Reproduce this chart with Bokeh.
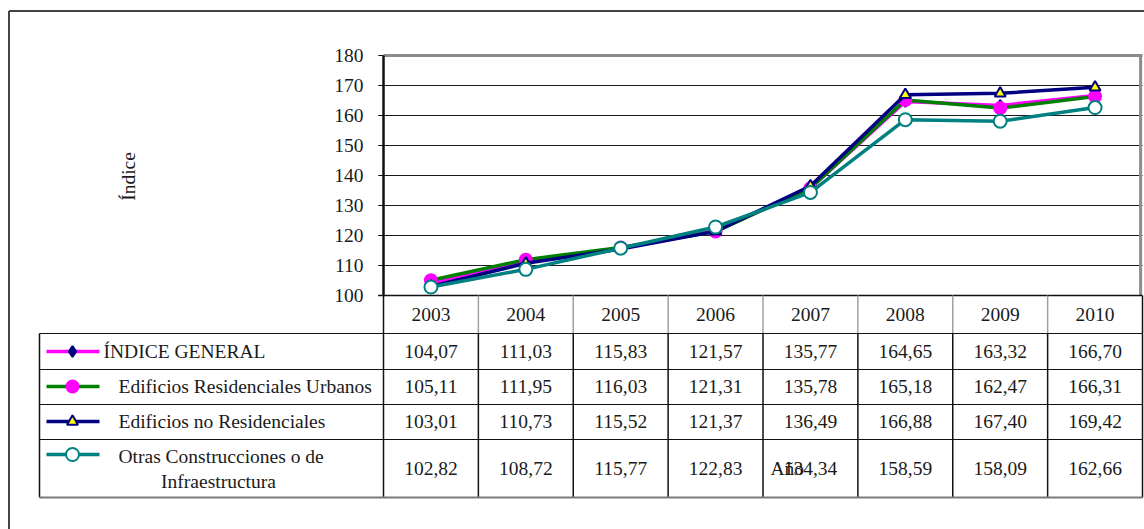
from bokeh.plotting import figure
from bokeh.models import Range1d, ColumnDataSource
from bokeh.core.properties import value
from bokeh.embed import file_html
from bokeh.resources import INLINE

# ---------------- data ----------------
years = ["2003", "2004", "2005", "2006", "2007", "2008", "2009", "2010"]
series_names = ["ÍNDICE GENERAL", "Edificios Residenciales Urbanos",
                "Edificios no Residenciales", "Otras Construcciones o de Infraestructura"]
indice_general = [104.07, 111.03, 115.83, 121.57, 135.77, 164.65, 163.32, 166.70]
resid_urbanos = [105.11, 111.95, 116.03, 121.31, 135.78, 165.18, 162.47, 166.31]
no_resid = [103.01, 110.73, 115.52, 121.37, 136.49, 166.88, 167.40, 169.42]
otras_constr = [102.82, 108.72, 115.77, 122.83, 134.34, 158.59, 158.09, 162.66]
y_ticks = [100, 110, 120, 130, 140, 150, 160, 170, 180]
y_title = "Índice"
x_title = "Año"

series_values = [indice_general, resid_urbanos, no_resid, otras_constr]
line_colors = ["#FF00FF", "#008000", "#000080", "#008080"]
marker_types = ["diamond", "circle", "triangle", "circle"]
marker_fill = ["#000080", "#FF00FF", "#FFFF00", "#FFFFFF"]
marker_line = ["#000080", "#FF00FF", "#000080", "#008080"]
marker_size = [11, 12, 11, 13]

# ---------------- layout (page px -> canvas px) ----------------
W, H = 1144, 529
OFF = 0
FONT = value("Liberation Serif")
FS = "19.5px"
TXT = "#1a1a1a"

def cx(x):
    return x - OFF

def cy(y):
    return y - OFF

plot_left, plot_right = 383, 1142
plot_top, plot_bottom = 55, 295
col_w = (plot_right - plot_left) / len(years)
px_per_unit = (plot_bottom - plot_top) / (y_ticks[-1] - y_ticks[0])

p = figure(width=W, height=H, output_backend="svg", toolbar_location=None,
           x_range=Range1d(0, W), y_range=Range1d(H, 0),
           x_axis_type=None, y_axis_type=None, min_border=0,
           outline_line_color=None, background_fill_color="white",
           border_fill_color="white")
p.xgrid.visible = False
p.ygrid.visible = False

# data ranges so that the chart is drawn through Bokeh's own scales
x0 = -(cx(plot_left)) / col_w - 0.5
x1 = (W - cx(plot_left)) / col_w - 0.5
ylo = y_ticks[0] - (H - cy(plot_bottom)) / px_per_unit
yhi = y_ticks[-1] + cy(plot_top) / px_per_unit
p.extra_x_ranges = {"yr": Range1d(x0, x1)}
p.extra_y_ranges = {"val": Range1d(ylo, yhi)}

idx = list(range(len(years)))
n = len(years)

# outer chart border
p.segment(x0=[cx(8.5), cx(8.5)], y0=[cy(10.5), cy(10.5)], x1=[W, cx(8.5)], y1=[cy(10.5), H],
          line_color="#444444", line_width=2)

# gridlines
grid = y_ticks[1:-1]
p.segment(x0=[-0.5] * len(grid), x1=[n - 0.5] * len(grid), y0=grid, y1=grid,
          x_range_name="yr", y_range_name="val", line_color="#1a1a1a", line_width=1)
# plot area border
p.segment(x0=[-0.5], x1=[n - 0.5], y0=[y_ticks[-1]], y1=[y_ticks[-1]],
          x_range_name="yr", y_range_name="val", line_color="#8c8c8c", line_width=3)
p.segment(x0=[n - 0.52], x1=[n - 0.52], y0=[y_ticks[0]], y1=[y_ticks[-1]],
          x_range_name="yr", y_range_name="val", line_color="#8c8c8c", line_width=3)
p.segment(x0=[-0.5], x1=[-0.5], y0=[y_ticks[0]], y1=[y_ticks[-1]],
          x_range_name="yr", y_range_name="val", line_color="#111111", line_width=2.5)
# tick marks
p.segment(x0=[-0.555] * len(y_ticks), x1=[-0.5] * len(y_ticks), y0=y_ticks, y1=y_ticks,
          x_range_name="yr", y_range_name="val", line_color="#111111", line_width=1)
p.segment(x0=[-0.555], x1=[n - 0.5], y0=[y_ticks[0]], y1=[y_ticks[0]],
          x_range_name="yr", y_range_name="val", line_color="#111111", line_width=1.5)
# tick labels
p.text(x=[-0.71] * len(y_ticks), y=y_ticks, text=[str(t) for t in y_ticks],
       x_range_name="yr", y_range_name="val", text_font=FONT, text_font_size=FS,
       text_align="right", text_baseline="middle", text_color=TXT)

# y title
p.text(x=[cx(128)], y=[cy(176)], text=[y_title], angle=1.5708,
       text_font=FONT, text_font_size=FS, text_align="center",
       text_baseline="middle", text_color=TXT)

# series
for vals, lc, mt, mf, ml, ms in zip(series_values, line_colors, marker_types,
                                    marker_fill, marker_line, marker_size):
    src = ColumnDataSource(dict(x=idx, y=vals))
    p.line("x", "y", source=src, x_range_name="yr", y_range_name="val",
           line_color=lc, line_width=3.5)
    p.scatter("x", "y", source=src, x_range_name="yr", y_range_name="val",
              marker=mt, size=ms, fill_color=mf, line_color=ml, line_width=2)

# ---------------- data table ----------------
row_lines = [333, 369, 404, 439, 497]
row_centers = [351, 386, 421, 468]
header_center = 314
legend_left = 39

vx = [i - 0.5 for i in range(n)]
# header vertical lines (gray)
p.segment(x0=vx[1:], x1=vx[1:], y0=[cy(plot_bottom)] * (n - 1), y1=[cy(row_lines[0])] * (n - 1),
          x_range_name="yr", line_color="#a0a0a0", line_width=1.5)
p.segment(x0=[vx[0]], x1=[vx[0]], y0=[cy(plot_bottom)], y1=[cy(row_lines[-1])],
          x_range_name="yr", line_color="#111111", line_width=1.5)
# body vertical lines
p.segment(x0=vx[1:] + [n - 0.5], x1=vx[1:] + [n - 0.5],
          y0=[cy(row_lines[0])] * n, y1=[cy(row_lines[-1])] * n,
          x_range_name="yr", line_color="#111111", line_width=1.5)
p.segment(x0=[n - 0.5], x1=[n - 0.5], y0=[cy(plot_bottom)], y1=[cy(row_lines[0])],
          x_range_name="yr", line_color="#111111", line_width=1.5)
p.segment(x0=[cx(legend_left)], x1=[cx(legend_left)], y0=[cy(row_lines[0])], y1=[cy(row_lines[-1])],
          line_color="#111111", line_width=1.5)
# horizontal lines
p.segment(x0=[cx(legend_left)] * 4, x1=[cx(plot_right)] * 4,
          y0=[cy(r) for r in row_lines[:-1]], y1=[cy(r) for r in row_lines[:-1]],
          line_color="#111111", line_width=1.2)
p.segment(x0=[cx(legend_left)], x1=[cx(plot_right)],
          y0=[cy(row_lines[-1])], y1=[cy(row_lines[-1])],
          line_color="#7a7a7a", line_width=2)

# year headers
p.text(x=idx, y=[cy(header_center)] * n, text=years, x_range_name="yr",
       text_font=FONT, text_font_size=FS, text_align="center",
       text_baseline="middle", text_color=TXT)

# values
for vals, rc in zip(series_values, row_centers):
    p.text(x=idx, y=[cy(rc)] * n, text=[f"{v:.2f}".replace(".", ",") for v in vals],
           x_range_name="yr", text_font=FONT, text_font_size=FS, text_align="center",
           text_baseline="middle", text_color=TXT)

# legend keys
key_y = [351, 386, 421, 454]
for ky, lc, mt, mf, ml, ms in zip(key_y, line_colors, marker_types, marker_fill,
                                  marker_line, marker_size):
    p.segment(x0=[cx(46)], x1=[cx(99)], y0=[cy(ky)], y1=[cy(ky)], line_color=lc, line_width=3.5)
    p.scatter(x=[cx(72)], y=[cy(ky)], marker=mt, size=ms, fill_color=mf,
              line_color=ml, line_width=2)

# legend labels
p.text(x=[cx(103)], y=[cy(351)], text=[series_names[0]], text_font=FONT, text_font_size=FS,
       text_align="left", text_baseline="middle", text_color=TXT)
p.text(x=[cx(118), cx(118)], y=[cy(386), cy(421)], text=series_names[1:3],
       text_font=FONT, text_font_size=FS, text_align="left", text_baseline="middle",
       text_color=TXT)
p.text(x=[cx(118)], y=[cy(456)], text=["Otras Construcciones o de"], text_font=FONT,
       text_font_size=FS, text_align="left", text_baseline="middle", text_color=TXT)
p.text(x=[cx(218)], y=[cy(481)], text=["Infraestructura"], text_font=FONT,
       text_font_size=FS, text_align="center", text_baseline="middle", text_color=TXT)

# x title (overlapping the table as in the reference)
p.text(x=[cx(770)], y=[cy(468)], text=[x_title], text_font=FONT, text_font_size=FS,
       text_align="left", text_baseline="middle", text_color=TXT)

open("out.html", "w").write(file_html(p, INLINE))
